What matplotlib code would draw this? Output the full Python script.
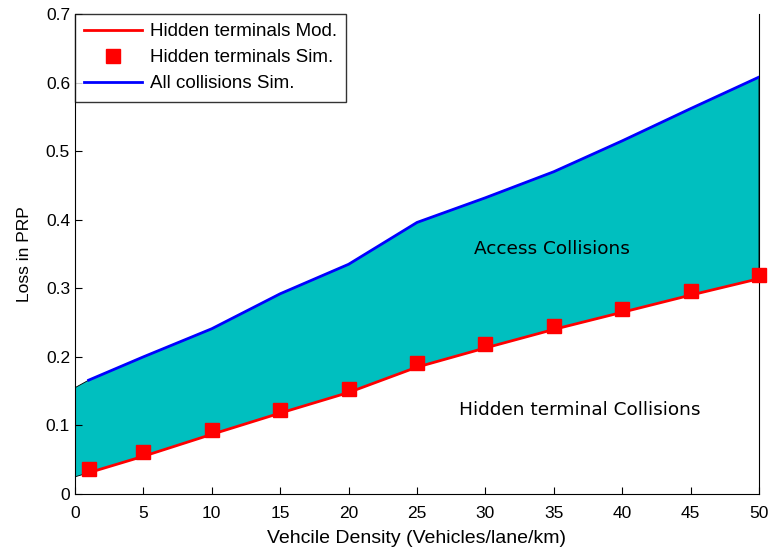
import numpy as np
import matplotlib.pyplot as plt

plt.rcParams['font.family'] = ['Liberation Sans', 'DejaVu Sans']

# vehicle density (vehicles/lane/km)
density = [1, 5, 10, 15, 20, 25, 30, 35, 40, 45, 50]
# loss in PRP
hidden_mod = [0.031, 0.055, 0.087, 0.118, 0.148, 0.185, 0.213, 0.240, 0.265, 0.290, 0.314]
hidden_sim = [0.036, 0.061, 0.093, 0.122, 0.153, 0.191, 0.219, 0.245, 0.270, 0.296, 0.319]
all_sim = [0.166, 0.200, 0.241, 0.292, 0.335, 0.396, 0.432, 0.470, 0.515, 0.562, 0.608]

# shaded band starts at density 0
fill_x = [0] + density
fill_top = [0.155] + all_sim
fill_bot = [0.025] + hidden_mod

fig = plt.figure(figsize=(7.69, 5.49), dpi=100)
ax = fig.add_axes([0.0975, 0.1002, 0.8895, 0.8743])

poly_x = fill_x + fill_x[::-1]
poly_y = fill_top + fill_bot[::-1]
ax.fill(poly_x, poly_y, facecolor=(0, 0.75, 0.75), edgecolor='black', linewidth=0.6, zorder=1)

ax.plot(density, hidden_mod, color='red', linewidth=2, label='Hidden terminals Mod.', zorder=3)
ax.plot(density, hidden_sim, 's', color='red', markersize=10, linestyle='none',
        label='Hidden terminals Sim.', zorder=4, clip_on=False)
ax.plot(density, all_sim, color='blue', linewidth=2, label='All collisions Sim.', zorder=3)

ax.text(34.9, 0.357, 'Access Collisions', fontsize=13.3, family='DejaVu Sans',
        ha='center', va='center')
ax.text(36.9, 0.122, 'Hidden terminal Collisions', fontsize=13.3, family='DejaVu Sans',
        ha='center', va='center')

ax.set_xlim(0, 50)
ax.set_ylim(0, 0.7)
ax.set_xticks(np.arange(0, 51, 5))
ax.set_yticks(np.arange(0, 0.71, 0.1))
ax.set_yticklabels(['0', '0.1', '0.2', '0.3', '0.4', '0.5', '0.6', '0.7'])
ax.tick_params(direction='in', length=5, labelsize=12.5, right=False, top=False)
ax.tick_params(axis='x', pad=9)
ax.spines['top'].set_visible(False)
ax.set_xlabel('Vehcile Density (Vehicles/lane/km)', fontsize=14, labelpad=6)
ax.set_ylabel('Loss in PRP', fontsize=12.5, labelpad=10)

leg = ax.legend(loc='upper left', bbox_to_anchor=(0.0, 1.0), fontsize=13.5, frameon=True,
                fancybox=False, edgecolor='black', borderaxespad=0, handlelength=3.1,
                handletextpad=0.4, labelspacing=0.47, borderpad=0.5)
leg.get_frame().set_linewidth(1)

fig.savefig('out.png', dpi=100)
